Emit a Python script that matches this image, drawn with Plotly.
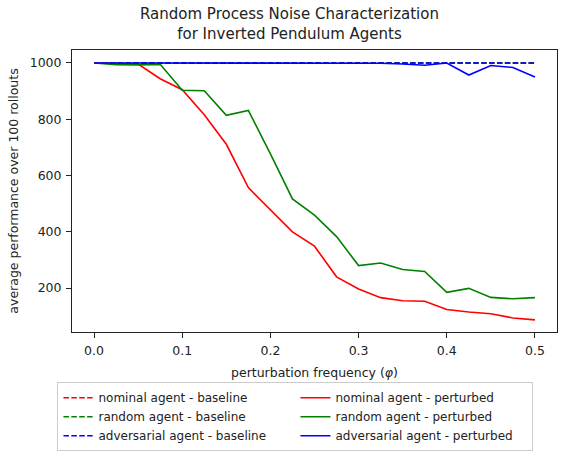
import plotly.graph_objects as go

freq = [0.0, 0.025, 0.05, 0.075, 0.1, 0.125, 0.15, 0.175, 0.2, 0.225, 0.25,
        0.275, 0.3, 0.325, 0.35, 0.375, 0.4, 0.425, 0.45, 0.475, 0.5]

nominal_baseline = [1000] * 21
random_baseline = [1000] * 21
adversarial_baseline = [1000] * 21

nominal_perturbed = [1000, 997, 996, 944, 905, 816, 711, 557, 477, 400, 349,
                     240, 197, 166, 155, 153, 124, 115, 109, 94, 87]
random_perturbed = [1000, 994, 993, 995, 903, 901, 814, 831, 677, 517, 459,
                    383, 280, 289, 266, 259, 185, 199, 167, 162, 166]
adversarial_perturbed = [1000, 1000, 1000, 1000, 1000, 1000, 1000, 1000, 1000, 1000, 1000,
                         1000, 1000, 999, 996, 992, 1000, 957, 991, 984, 950]

names = ["nominal agent", "random agent", "adversarial agent"]
colors = ["#ff0000", "#008000", "#0000ff"]
baselines = [nominal_baseline, random_baseline, adversarial_baseline]
perturbed = [nominal_perturbed, random_perturbed, adversarial_perturbed]

fig = go.Figure()
for i in range(3):
    fig.add_trace(go.Scatter(
        x=freq, y=baselines[i], mode="lines",
        name=f"{names[i]} - baseline",
        line=dict(color=colors[i], width=1.6, dash="5.5px,2.4px"),
        legendrank=10 * i + 1,
    ))
for i in range(3):
    fig.add_trace(go.Scatter(
        x=freq, y=perturbed[i], mode="lines",
        name=f"{names[i]} - perturbed",
        line=dict(color=colors[i], width=1.6),
        legendrank=10 * i + 2,
    ))

txt = "#222222"
axis_common = dict(
    showline=True, linecolor="#222222", linewidth=1, mirror=True,
    ticks="outside", ticklen=5, tickcolor="#222222", tickwidth=1,
    showgrid=False, zeroline=False,
    tickfont=dict(size=12.5, color=txt),
    ticklabelstandoff=2,
)

fig.update_layout(
    width=561, height=455,
    margin=dict(l=72, r=4, t=50, b=118),
    paper_bgcolor="white", plot_bgcolor="white",
    font=dict(family="DejaVu Sans", size=12.5, color=txt),
    xaxis=dict(
        range=[-0.025, 0.525], tickvals=[0.0, 0.1, 0.2, 0.3, 0.4, 0.5],
        tickformat=".1f",
        title=dict(text="perturbation frequency (<i>φ</i>)", standoff=11,
                   font=dict(size=12.5, color=txt)),
        **axis_common,
    ),
    yaxis=dict(
        range=[44, 1046], tickvals=[200, 400, 600, 800, 1000],
        title=dict(text="average performance over 100 rollouts", standoff=8,
                   font=dict(size=12.5, color=txt)),
        **axis_common,
    ),
    legend=dict(
        orientation="h", x=-0.03, xanchor="left", y=-0.178, yanchor="top",
        entrywidth=192, entrywidthmode="pixels",
        bordercolor="#cccccc", borderwidth=1, bgcolor="white",
        font=dict(size=12, color=txt), traceorder="normal", tracegroupgap=0,
    ),
    annotations=[dict(
        text="Random Process Noise Characterization<br>for Inverted Pendulum Agents",
        xref="paper", yref="paper", x=0.449, y=1.0, xanchor="center",
        yanchor="bottom", yshift=5, showarrow=False,
        font=dict(size=15, color=txt),
    )],
)

fig.write_html("out.html")
